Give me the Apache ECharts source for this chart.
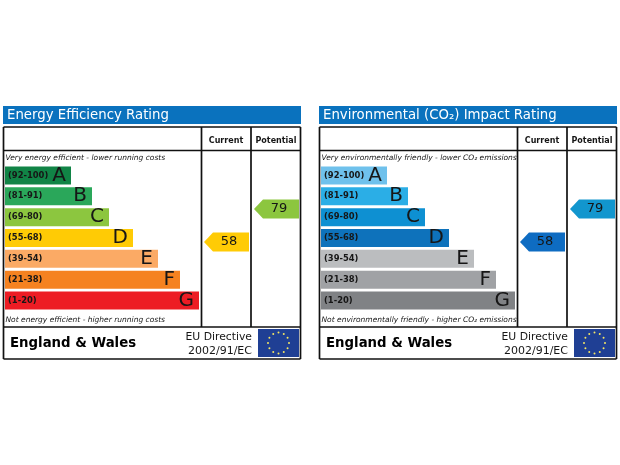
<!DOCTYPE html>
<html>
<head>
<meta charset="utf-8">
<style>
  html, body { margin: 0; padding: 0; background: #fff; }
  #chart { width: 620px; height: 465px; }
</style>
<script src="https://cdn.jsdelivr.net/npm/echarts@6/dist/echarts.min.js"></script>
</head>
<body>
<div id="chart"></div>
<script>
const bands = ['(92-100)', '(81-91)', '(69-80)', '(55-68)', '(39-54)', '(21-38)', '(1-20)'];
const letters = ['A', 'B', 'C', 'D', 'E', 'F', 'G'];
const barLengths = [66, 87, 104, 128, 153, 175, 194];
const columns = ['Current', 'Potential'];

const energyColors = ['#118446', '#2aa75a', '#8cc63f', '#ffcb05', '#fbaa65', '#f58220', '#ed1c24'];
const co2Colors = ['#6fc1ec', '#2baee6', '#0e90d2', '#0e72bb', '#bbbdbf', '#a0a2a5', '#808285'];

const energyScores = [58, 79];
const energyScoreColors = ['#ffcb05', '#8cc63f'];
const co2Scores = [58, 79];
const co2ScoreColors = ['#0e6cc2', '#1296ce'];

const FONT = '"DejaVu Sans", Verdana, sans-serif';
const INK = '#161616';

const grids = [];
const xAxes = [];
const yAxes = [];
const series = [];
const graphics = [];

function addLine(x1, y1, x2, y2) {
  graphics.push({
    type: 'line',
    shape: { x1, y1, x2, y2 },
    style: { stroke: '#111', lineWidth: 1.7 },
    silent: true,
  });
}

function addText(text, x, y, font, align, fill) {
  graphics.push({
    type: 'text',
    x, y,
    style: { text, font, fill: fill || INK, textAlign: align || 'left', textVerticalAlign: 'middle' },
    silent: true,
  });
}

function addFlag(dx) {
  graphics.push({
    type: 'rect',
    shape: { x: dx + 258, y: 329, width: 41, height: 28 },
    style: { fill: '#1f3f94' },
    silent: true,
  });
  for (let i = 0; i < 12; i++) {
    const a = (i / 12) * Math.PI * 2;
    graphics.push({
      type: 'circle',
      shape: { cx: dx + 278.5 + Math.sin(a) * 10.5, cy: 343 - Math.cos(a) * 10.5, r: 1 },
      style: { fill: '#f5e663' },
      silent: true,
    });
  }
}

function renderPointer(colors) {
  return function (params, api) {
    const p = api.coord([api.value(0), api.value(1)]);
    const band = api.size([1, 0])[0];
    const left = p[0] - band / 2 + 3;
    const right = p[0] + band / 2 - 2;
    const shoulder = left + 9;
    const h = 9.5;
    return {
      type: 'group',
      children: [
        {
          type: 'polygon',
          shape: { points: [[left, p[1]], [shoulder, p[1] - h], [right, p[1] - h], [right, p[1] + h], [shoulder, p[1] + h]] },
          style: { fill: colors[params.dataIndex] },
        },
        {
          type: 'text',
          style: {
            text: String(api.value(1)),
            x: p[0] + 3,
            y: p[1],
            font: '13px ' + FONT,
            fill: INK,
            textAlign: 'center',
            textVerticalAlign: 'middle',
          },
        },
      ],
    };
  };
}

function addPanel(dx, cfg) {
  const barGrid = grids.length;
  grids.push({ left: dx + 5, top: 165, width: 194, height: 146 });
  xAxes.push({ gridIndex: barGrid, type: 'value', min: 0, max: 194, show: false });
  yAxes.push({
    gridIndex: barGrid,
    type: 'category',
    inverse: true,
    data: bands,
    z: 5,
    axisLine: { show: false },
    axisTick: { show: false },
    axisLabel: { inside: true, margin: 3, color: INK, fontFamily: FONT, fontSize: 8.4, fontWeight: 'bold' },
  });
  series.push({
    type: 'bar',
    xAxisIndex: barGrid,
    yAxisIndex: barGrid,
    barWidth: 18,
    silent: true,
    animation: false,
    data: barLengths.map((v, i) => ({ value: v, itemStyle: { color: cfg.colors[i] } })),
    label: {
      show: true,
      position: 'insideRight',
      distance: 5,
      formatter: (p) => letters[p.dataIndex],
      color: INK,
      fontFamily: FONT,
      fontSize: 20,
    },
  });

  const colGrid = grids.length;
  grids.push({ left: dx + 201, top: 165, width: 100, height: 146 });
  xAxes.push({
    gridIndex: colGrid,
    type: 'category',
    position: 'top',
    data: columns,
    axisLine: { show: false },
    axisTick: { show: false },
    axisLabel: { interval: 0, margin: 20, color: INK, fontFamily: FONT, fontSize: 8, fontWeight: 'bold' },
  });
  yAxes.push({ gridIndex: colGrid, type: 'value', min: 14, max: 107, show: false });
  series.push({
    type: 'custom',
    xAxisIndex: colGrid,
    yAxisIndex: colGrid,
    silent: true,
    animation: false,
    data: cfg.scores.map((s, i) => [i, s]),
    renderItem: renderPointer(cfg.scoreColors),
    encode: { x: 0, y: 1 },
  });

  // title strip
  graphics.push({
    type: 'rect',
    shape: { x: dx + 3, y: 106, width: 298, height: 18 },
    style: { fill: '#0a72be' },
    silent: true,
  });
  addText(cfg.title, dx + 7, 115.5, '13.3px ' + FONT, 'left', '#fff');

  // frame
  addLine(dx + 3.5, 127, dx + 300.5, 127);
  addLine(dx + 3.5, 150.5, dx + 300.5, 150.5);
  addLine(dx + 3.5, 327, dx + 300.5, 327);
  addLine(dx + 3.5, 359, dx + 300.5, 359);
  addLine(dx + 3.5, 127, dx + 3.5, 359);
  addLine(dx + 300.5, 127, dx + 300.5, 359);
  addLine(dx + 201.5, 127, dx + 201.5, 327);
  addLine(dx + 251, 127, dx + 251, 327);

  addText(cfg.topNote, dx + 5.5, 158.5, 'italic 7.5px ' + FONT);
  addText(cfg.bottomNote, dx + 5.5, 320, 'italic 7.5px ' + FONT);

  addText('England & Wales', dx + 10, 344, 'bold 13.3px ' + FONT, 'left', '#000');
  addText('EU Directive', dx + 252, 337, '10.8px ' + FONT, 'right');
  addText('2002/91/EC', dx + 252, 351, '11px ' + FONT, 'right');
  addFlag(dx);
}

addPanel(0, {
  title: 'Energy Efficiency Rating',
  topNote: 'Very energy efficient - lower running costs',
  bottomNote: 'Not energy efficient - higher running costs',
  colors: energyColors,
  scores: energyScores,
  scoreColors: energyScoreColors,
});
addPanel(316, {
  title: 'Environmental (CO₂) Impact Rating',
  topNote: 'Very environmentally friendly - lower CO₂ emissions',
  bottomNote: 'Not environmentally friendly - higher CO₂ emissions',
  colors: co2Colors,
  scores: co2Scores,
  scoreColors: co2ScoreColors,
});

const chart = echarts.init(document.getElementById('chart'));
chart.setOption({
  backgroundColor: '#fff',
  animation: false,
  grid: grids,
  xAxis: xAxes,
  yAxis: yAxes,
  series,
  graphic: graphics,
});
</script>
</body>
</html>
